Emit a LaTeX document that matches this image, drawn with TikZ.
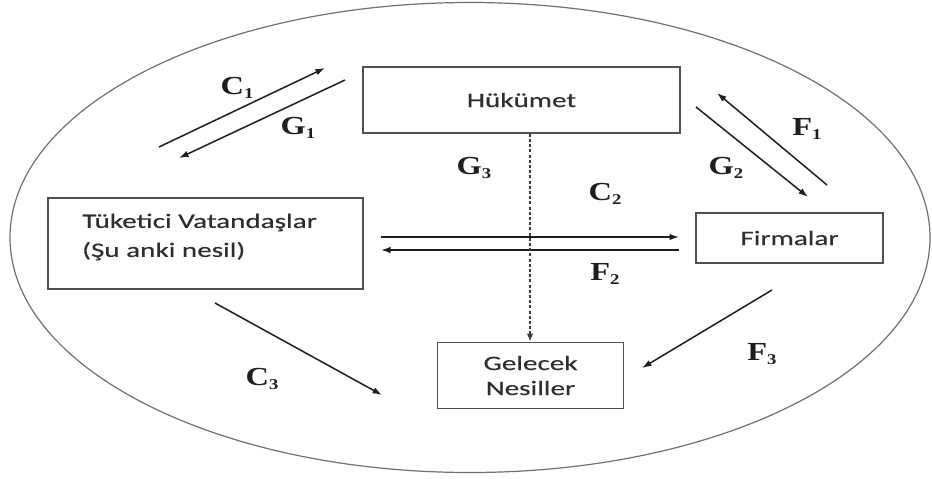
\documentclass[tikz,border=0pt]{standalone}
\usepackage{fontspec}
\usetikzlibrary{arrows.meta}
\newfontfamily\boxfont[FakeStretch=1.42,FakeBold=0.3]{Carlito}
\newfontfamily\labfont[FakeStretch=1.25]{Liberation Serif}
\definecolor{inkbox}{HTML}{505050}
\definecolor{inktext}{HTML}{2E2E2E}
\definecolor{inkarrow}{HTML}{1E1E1E}
\definecolor{inkring}{HTML}{707070}
\definecolor{inkdash}{HTML}{3A3A3A}
% flow label: bold letter with a lowered index
\newcommand\flowlab[2]{#1\raisebox{-0.4ex}{\fontsize{15}{15}\selectfont #2}}
\tikzset{
  actor/.style={draw=inkbox, line width=1.7pt, rectangle, inner sep=0pt,
                font={\boxfont\fontsize{20.5}{24}\selectfont}, text=inktext, align=center},
  boxtext/.style={font={\boxfont\fontsize{20.5}{29}\selectfont}, text=inktext, inner sep=0pt, align=left},
  flow/.style={draw=inkarrow, line width=1.5pt, -{Latex[length=9.5pt,width=6.5pt]}},
  futureflow/.style={draw=inkdash, line width=2pt, dash pattern=on 3pt off 2.2pt,
                     -{Latex[length=8pt,width=6.5pt]}},
  flowlabel/.style={inner sep=0pt, text=inkarrow, font={\labfont\bfseries\fontsize{26}{26}\selectfont}},
}
\begin{document}
\begin{tikzpicture}[x=1pt,y=-1pt]
\useasboundingbox (0,0) rectangle (932,479);
\fill[white] (0,0) rectangle (932,479);

% enclosing ring
\draw[inkring, line width=1.2pt] (470,237.5) ellipse [x radius=460, y radius=235];

% actors
\node[actor, minimum width=317pt, minimum height=66pt] (huk) at (521.5,100) {Hükümet};
\node[actor, minimum width=315pt, minimum height=91pt] (tuk) at (205.5,243.5) {};
\node[boxtext, anchor=west] (tuktext) at (82,237) {Tüketici Vatandaşlar\\(Şu anki nesil)};
\node[actor, minimum width=187pt, minimum height=50pt] (firm) at (789.5,238) {Firmalar};
\node[actor, minimum width=186pt, minimum height=66pt, align=center,
      font={\boxfont\fontsize{20.5}{25}\selectfont}] (gel) at (530.5,375.5)
     {Gelecek\\Nesiller};

% free ends of the flows
\coordinate (c1s) at (159,147);   \coordinate (c1e) at (325,68);
\coordinate (g1s) at (345,80);    \coordinate (g1e) at (179,158);
\coordinate (f1s) at (827,185);   \coordinate (f1e) at (717,93);
\coordinate (g2s) at (696,107);   \coordinate (g2e) at (808,197);
\coordinate (c2s) at (381,237);   \coordinate (c2e) at (679,237);
\coordinate (f2s) at (679,250);   \coordinate (f2e) at (381,250);
\coordinate (c3s) at (215,303);   \coordinate (c3e) at (382,395);
\coordinate (f3s) at (772,290);   \coordinate (f3e) at (642,368);

% flows
\draw[flow] (c1s) -- (c1e);
\draw[flow] (g1s) -- (g1e);
\draw[flow] (f1s) -- (f1e);
\draw[flow] (g2s) -- (g2e);
\draw[flow] (c2s) -- (c2e);
\draw[flow] (f2s) -- (f2e);
\draw[flow] (c3s) -- (c3e);
\draw[flow] (f3s) -- (f3e);
\draw[futureflow] (huk.south -| 530,0) -- (gel.north -| 530,0);

% flow labels
\node[flowlabel] (lc1) at (237,88)  {\flowlab{C}{1}};
\node[flowlabel] (lg1) at (298,128) {\flowlab{G}{1}};
\node[flowlabel] (lf1) at (807,129) {\flowlab{F}{1}};
\node[flowlabel] (lg2) at (726,168) {\flowlab{G}{2}};
\node[flowlabel] (lg3) at (474,168) {\flowlab{G}{3}};
\node[flowlabel] (lc2) at (605,194) {\flowlab{C}{2}};
\node[flowlabel] (lf2) at (605,274) {\flowlab{F}{2}};
\node[flowlabel] (lc3) at (262,379) {\flowlab{C}{3}};
\node[flowlabel] (lf3) at (762,354) {\flowlab{F}{3}};
\end{tikzpicture}
\end{document}
